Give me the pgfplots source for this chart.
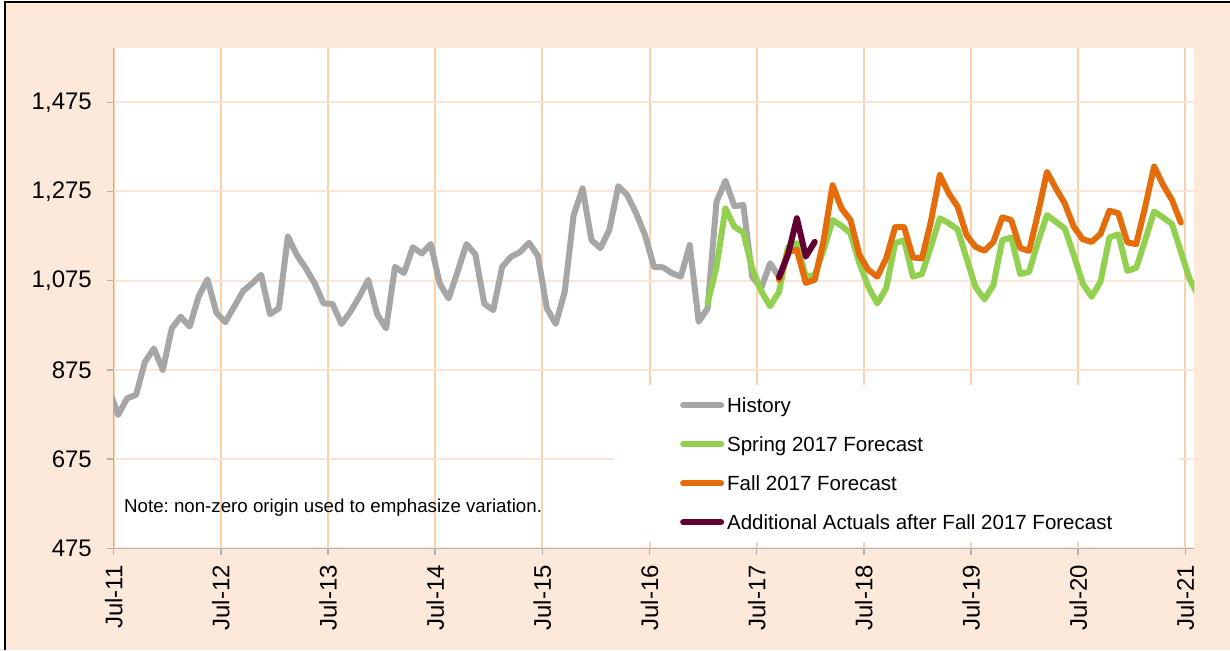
\documentclass[border=0pt]{standalone}
\usepackage{pgfplots}
\pgfplotsset{compat=1.18}
\usepackage{pgfplotstable}
\usepackage{fontspec}
\setmainfont{Liberation Sans}
\frenchspacing
\definecolor{peach}{HTML}{FDE9D9}
\definecolor{vgrid}{HTML}{F9D1AC}
\definecolor{hgrid}{HTML}{FCE5D6}
\definecolor{axgray}{HTML}{B3B3B3}
\definecolor{histc}{HTML}{A6A6A6}
\definecolor{springc}{HTML}{92D050}
\definecolor{fallc}{HTML}{E46C0A}
\definecolor{actc}{HTML}{620032}

\pgfplotstableread{
x y
-0.5 830
0.5 774
1.5 811
2.5 819
3.5 893
4.5 923
5.5 875
6.5 968
7.5 994
8.5 972
9.5 1039
10.5 1078
11.5 1003
12.5 982
13.5 1017
14.5 1052
15.5 1069
16.5 1088
17.5 1000
18.5 1013
19.5 1174
20.5 1133
21.5 1103
22.5 1069
23.5 1024
24.5 1023
25.5 978
26.5 1005
27.5 1039
28.5 1077
29.5 1000
30.5 968
31.5 1106
32.5 1092
33.5 1150
34.5 1136
35.5 1157
36.5 1069
37.5 1035
38.5 1095
39.5 1157
40.5 1134
41.5 1023
42.5 1009
43.5 1106
44.5 1129
45.5 1139
46.5 1160
47.5 1131
48.5 1013
49.5 978
50.5 1050
51.5 1222
52.5 1282
53.5 1166
54.5 1148
55.5 1189
56.5 1287
57.5 1267
58.5 1226
59.5 1177
60.5 1106
61.5 1105
62.5 1092
63.5 1084
64.5 1155
65.5 983
66.5 1013
67.5 1252
68.5 1299
69.5 1242
70.5 1245
71.5 1084
72.5 1058
73.5 1114
74.5 1084
}\history

\pgfplotstableread{
x y
66.5 1024
67.5 1106
68.5 1237
69.5 1196
70.5 1183
71.5 1102
72.5 1052
73.5 1018
74.5 1050
75.5 1150
76.5 1159
77.5 1084
78.5 1088
79.5 1144
80.5 1211
81.5 1198
82.5 1181
83.5 1114
84.5 1061
85.5 1024
86.5 1058
87.5 1159
88.5 1166
89.5 1084
90.5 1090
91.5 1151
92.5 1215
93.5 1204
94.5 1190
95.5 1125
96.5 1061
97.5 1033
98.5 1065
99.5 1166
100.5 1172
101.5 1090
102.5 1095
103.5 1162
104.5 1222
105.5 1207
106.5 1192
107.5 1133
108.5 1069
109.5 1039
110.5 1073
111.5 1172
112.5 1179
113.5 1097
114.5 1104
115.5 1166
116.5 1230
117.5 1217
118.5 1202
119.5 1140
120.5 1077
121.5 1040
}\spring

\pgfplotstableread{
x y
74.5 1077
75.5 1140
76.5 1144
77.5 1070
78.5 1077
79.5 1166
80.5 1289
81.5 1237
82.5 1211
83.5 1133
84.5 1099
85.5 1084
86.5 1125
87.5 1195
88.5 1195
89.5 1127
90.5 1125
91.5 1207
92.5 1312
93.5 1271
94.5 1241
95.5 1177
96.5 1151
97.5 1142
98.5 1162
99.5 1217
100.5 1211
101.5 1148
102.5 1142
103.5 1226
104.5 1319
105.5 1282
106.5 1248
107.5 1196
108.5 1168
109.5 1162
110.5 1180
111.5 1232
112.5 1226
113.5 1161
114.5 1157
115.5 1241
116.5 1331
117.5 1290
118.5 1256
119.5 1205
}\fall

\pgfplotstableread{
x y
74.5 1083
75.5 1133
76.5 1215
77.5 1129
78.5 1162
}\actuals

\begin{document}
\begin{tikzpicture}[x=1pt,y=1pt]
\useasboundingbox (0,0) rectangle (1230,650);
\fill[white] (0,0) rectangle (1230,650);
\fill[peach] (5,0) rectangle (1230,648);
\draw[black, line width=1.3pt] (5,0) -- (5,648) -- (1230,648);
\begin{axis}[
  at={(113.7pt,101.7pt)}, anchor=south west,
  scale only axis, width=1080.6pt, height=500.6pt,
  xmin=0, xmax=121, ymin=475, ymax=1597.4,
  enlargelimits=false,
  axis background/.style={fill=white},
  axis x line*=bottom, axis y line*=left,
  axis line style={draw=axgray, line width=1.5pt, -},
  xtick={0,12,...,120},
  xticklabels={Jul-11,Jul-12,Jul-13,Jul-14,Jul-15,Jul-16,Jul-17,Jul-18,Jul-19,Jul-20,Jul-21},
  ytick={475,675,875,1075,1275,1475},
  yticklabels={475,675,875,{1,075},{1,275},{1,475}},
  tick align=outside, major tick length=7pt,
  tick style={draw=axgray, line width=1.5pt},
  xmajorgrids, ymajorgrids,
  x grid style={draw=vgrid, line width=2pt},
  y grid style={draw=hgrid, line width=2pt},
  ticklabel style={font=\fontsize{24}{28}\selectfont},
  yticklabel style={anchor=east, inner sep=0pt},
  yticklabel shift=14.7pt,
  xticklabel style={rotate=90, anchor=east, inner sep=0pt},
  xticklabel shift=9.7pt,
  every axis plot/.append style={line width=6pt, line join=round, line cap=round},
  legend style={at={(0.462,0.326)}, anchor=north west, fill=white, draw=none,
    inner xsep=67pt, inner ysep=12.6pt, row sep=24.3pt, column sep=3pt,
    nodes={inner sep=0pt, font=\fontsize{20.5}{24}\selectfont, text height=14.7pt, text depth=0pt}},
  legend cell align=left,
  legend image code/.code={\draw[#1] (3pt,0pt) -- (41pt,0pt);},
]
\addplot[histc] table[x=x,y=y] {\history};
\addlegendentry{History}
\addplot[springc] table[x=x,y=y] {\spring};
\addlegendentry{Spring 2017 Forecast}
\addplot[fallc] table[x=x,y=y] {\fall};
\addlegendentry{Fall 2017 Forecast}
\addplot[actc] table[x=x,y=y] {\actuals};
\addlegendentry{Additional Actuals after Fall 2017 Forecast}
\node[anchor=base west, inner sep=0pt, font=\fontsize{18.7}{22}\selectfont] at (axis description cs:0.0095,0.0711) {Note: non-zero origin used to emphasize variation.};
\end{axis}
\end{tikzpicture}
\end{document}
